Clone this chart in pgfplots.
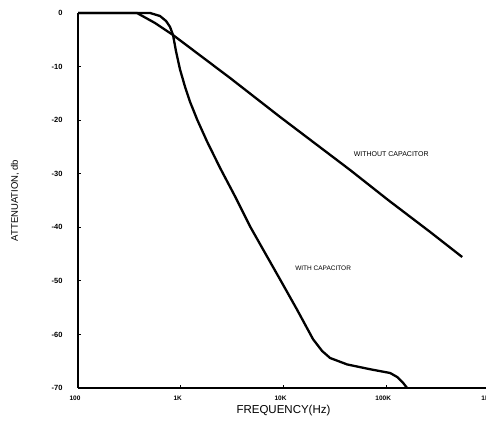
\documentclass[border=0pt]{standalone}
\usepackage{pgfplots}
\pgfplotsset{compat=1.18}
\usepackage{fontspec}
\setmainfont{Liberation Sans}
\begin{document}
\begin{tikzpicture}
\begin{axis}[
  at={(0pt,0pt)}, anchor=south west,
  scale only axis, width=411pt, height=375pt,
  xmode=log, xmin=100, xmax=1000000,
  ymin=-70, ymax=0,
  axis x line=bottom, axis y line=left,
  axis line style={-, line width=1.6pt},
  clip=false,
  xminorticks=false,
  xtick={100,1000,10000,100000,1000000},
  xticklabels={100,1K,10K,100K,1M},
  ytick={-70,-60,-50,-40,-30,-20,-10,0},
  yticklabels={-70,-60,-50,-40,-30,-20,-10,0},
  tick align=inside, major tick length=3pt,
  tick style={line width=1pt, black},
  xticklabel style={font=\fontsize{6.5}{7}\selectfont\bfseries, xshift=-3pt, yshift=-4pt},
  yticklabel style={font=\fontsize{7.5}{8}\selectfont\bfseries, xshift=-12pt},
]
\addplot[black, line width=2.3pt, line join=round] coordinates {
 (100,0) (375,0) (562,-1.87) (841,-4.11) (3020,-12.13) (9270,-19.41)
 (44520,-29.31) (104300,-34.91) (267600,-40.88) (548300,-45.55)
};
\addplot[black, line width=2.3pt, line join=round] coordinates {
 (100,0) (503,0) (628,-0.56) (719,-1.49) (787,-2.61) (841,-4.11)
 (900,-7.19) (984,-10.55) (1102,-13.81) (1233,-16.61) (1443,-19.88)
 (1803,-23.99) (2415,-28.93) (3380,-34.25) (4730,-39.85) (6330,-44.15)
 (9270,-49.75) (13560,-55.39)
 (19400,-60.9) (23770,-63.1) (28430,-64.4) (41590,-65.6) (69700,-66.5)
 (109100,-67.2) (127700,-67.95) (146200,-69.07) (159700,-70)
};
\node[font=\fontsize{7}{8}\selectfont] at (axis cs:111700,-26.3) {WITHOUT CAPACITOR};
\node[font=\fontsize{6.5}{7}\selectfont] at (axis cs:24300,-47.6) {WITH CAPACITOR};
\node[font=\fontsize{11.5}{12}\selectfont, anchor=center] at ([yshift=-23pt]axis description cs:0.5,0) {FREQUENCY(Hz)};
\node[font=\fontsize{9.5}{10}\selectfont, rotate=90, anchor=center] at ([xshift=-63pt]axis description cs:0,0.5) {ATTENUATION, db};
\end{axis}
\pgfresetboundingbox
\useasboundingbox (-78pt,-32pt) rectangle (408pt,388pt);
\end{tikzpicture}
\end{document}
